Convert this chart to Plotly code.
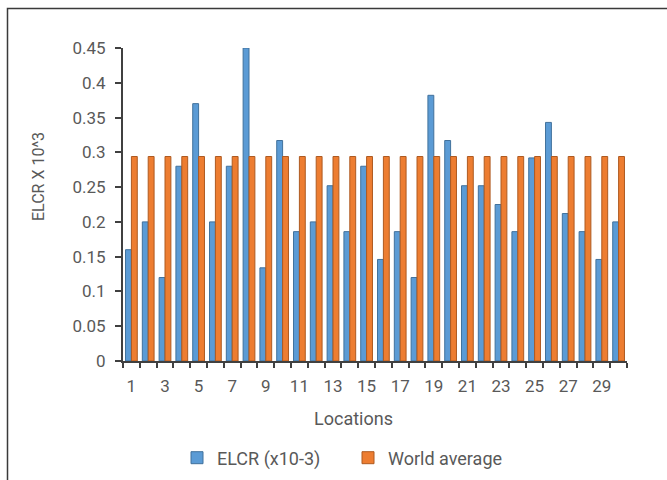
import plotly.graph_objects as go

# Excess lifetime cancer risk per sampling location
locations = list(range(1, 31))
elcr = [0.16, 0.20, 0.12, 0.28, 0.37, 0.20, 0.28, 0.45, 0.134, 0.317,
        0.186, 0.20, 0.252, 0.186, 0.28, 0.146, 0.186, 0.12, 0.382, 0.317,
        0.252, 0.252, 0.225, 0.186, 0.292, 0.343, 0.212, 0.186, 0.146, 0.20]
world_average = [0.294] * len(locations)

y_ticks = [0, 0.05, 0.1, 0.15, 0.2, 0.25, 0.3, 0.35, 0.4, 0.45]
y_tick_text = ["0", "0.05", "0.1", "0.15", "0.2", "0.25", "0.3", "0.35", "0.4", "0.45"]
x_tick_vals = list(range(1, 31, 2))

FONT = "Roboto, 'Open Sans', sans-serif"
TEXT = "#595959"
AXIS = "#404040"

fig = go.Figure()
fig.add_trace(go.Bar(
    x=locations, y=elcr, name="ELCR (x10-3)",
    marker=dict(color="#5B9BD5", line=dict(color="#41719C", width=1)),
))
fig.add_trace(go.Bar(
    x=locations, y=world_average, name="World average",
    marker=dict(color="#ED7D31", line=dict(color="#AE5A21", width=1)),
))

fig.update_layout(
    width=667, height=480,
    margin=dict(l=123, r=40, t=48, b=119, autoexpand=False),
    paper_bgcolor="white", plot_bgcolor="white",
    barmode="group", bargap=0.3, bargroupgap=0,
    font=dict(family=FONT, color=TEXT),
    showlegend=True,
    legend=dict(
        orientation="h", x=(177 - 123) / 504, y=(361 - 458) / 313,
        xanchor="left", yanchor="middle",
        font=dict(size=18, color=TEXT), entrywidth=126, itemwidth=30,
    ),
    xaxis=dict(
        range=[0.5, 30.5], tickmode="array", tickvals=x_tick_vals,
        ticktext=[str(v) for v in x_tick_vals],
        ticks="", showline=True, linecolor=AXIS, linewidth=2,
        showgrid=False, zeroline=False,
        tickfont=dict(size=17, color=TEXT), ticklabelstandoff=9,
        minor=dict(tickvals=[v + 0.5 for v in range(0, 31)], ticks="outside",
                   ticklen=5, tickwidth=2, tickcolor=AXIS, showgrid=False),
    ),
    yaxis=dict(
        range=[0, 0.45], tickmode="array", tickvals=y_ticks, ticktext=y_tick_text,
        ticks="outside", ticklen=6, tickwidth=2, tickcolor=AXIS,
        showline=True, linecolor=AXIS, linewidth=2,
        showgrid=False, zeroline=False,
        tickfont=dict(size=17, color=TEXT), ticklabelstandoff=6,
    ),
    annotations=[
        dict(text="Locations", x=(353 - 123) / 504, y=(361 - 418) / 313,
             xref="paper", yref="paper", showarrow=False,
             font=dict(size=18, color=TEXT), xanchor="center", yanchor="middle"),
        dict(text="ELCR X 10^3", x=(38 - 123) / 504, y=(361 - 177) / 313,
             xref="paper", yref="paper", showarrow=False, textangle=-90,
             font=dict(size=16, color=TEXT), xanchor="center", yanchor="middle"),
    ],
    shapes=[
        dict(type="path", xref="paper", yref="paper",
             path="M {x0} {y0} L {x0} {y1} L {x1} {y1}".format(
                 x0=(7.5 - 123) / 504, y0=(361 - 482) / 313,
                 y1=(361 - 8.5) / 313, x1=(670 - 123) / 504),
             line=dict(color="#3a3a3a", width=1.5)),
    ],
)

fig.write_html("out.html")
